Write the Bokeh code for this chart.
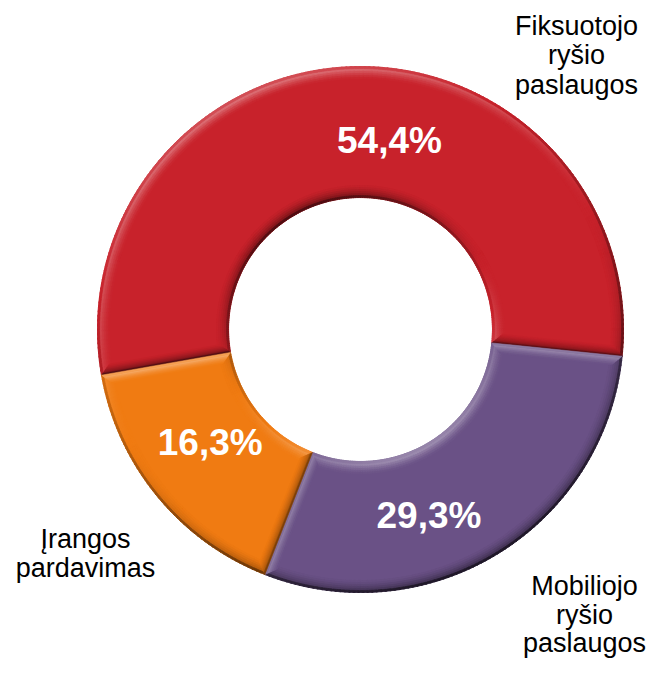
import numpy as np
from bokeh.plotting import figure
from bokeh.models import Range1d
from bokeh.embed import file_html
from bokeh.resources import INLINE
from bokeh.core.properties import value

# ---------------- data ----------------
categories = ["Fiksuotojo ryšio paslaugos", "Mobiliojo ryšio paslaugos", "Įrangos pardavimas"]
shares = [54.4, 29.3, 16.3]
pct_labels = ["54,4%", "29,3%", "16,3%"]
category_lines = [["Fiksuotojo", "ryšio", "paslaugos"],
                  ["Mobiliojo", "ryšio", "paslaugos"],
                  ["Įrangos", "pardavimas"]]
colors = ["#C8222B", "#6A5186", "#F07B12"]

# ---------------- layout ----------------
W, H = 654, 661
CX, CY = 360.0, -329.0
R_OUT, R_IN = 263.0, 132.0
START_DEG = 190.0
BEVEL = 12.0
FONT = "Liberation Sans"
LIGHT = np.array([-0.45, 0.9]); LIGHT = LIGHT / np.linalg.norm(LIGHT)
BASE_FIX = 0.36  # renderer places the alphabetic baseline this many ems lower

pct_nudge_deg = [-10.8, -11.2, -2.4]
pct_radius = [191.0, 198.0, 188.0]
PCT_SIZE = 37
CAT_SIZE = 27
# (center x, first baseline y, line spacing) in picture pixels
cat_pos = [(576.0, 35.0, 29.5), (584.0, 595.0, 28.8), (85.0, 548.5, 28.4)]

p = figure(width=W, height=H, output_backend="svg", toolbar_location=None, title=None,
           x_range=Range1d(0, W), y_range=Range1d(-H, 0), min_border=0,
           outline_line_color=None, background_fill_color="white",
           border_fill_color="white")
p.axis.visible = False
p.grid.visible = False


def hex2rgb(h):
    h = h.lstrip("#")
    return np.array([int(h[i:i + 2], 16) for i in (0, 2, 4)], dtype=float)


def shade(rgb, f):
    f = float(np.clip(f, -1, 1))
    if f >= 0:
        c = rgb + (255 - rgb) * f
    else:
        c = rgb * (1 + f)
    c = np.clip(c, 0, 255).astype(int)
    return "#%02x%02x%02x" % tuple(c)


fr = np.array(shares) / sum(shares)
bounds = START_DEG - 360.0 * np.concatenate([[0], np.cumsum(fr)])

# base slices
p.annular_wedge(x=[CX] * 3, y=[CY] * 3, inner_radius=R_IN, outer_radius=R_OUT,
                start_angle=list(np.radians(bounds[:-1])), end_angle=list(np.radians(bounds[1:])),
                direction="clock", fill_color=colors, line_color=colors, line_width=0.5)

# bevel shading along arcs
NSUB = 6
ws, we, wi, wo, wc = [], [], [], [], []
for i, col in enumerate(colors):
    rgb = hex2rgb(col)
    a0, a1 = bounds[i], bounds[i + 1]
    n = int(np.ceil((a0 - a1) / 1.0))
    edges = np.linspace(a0, a1, n + 1)
    for k in range(n):
        s, e = edges[k], edges[k + 1]
        th = np.radians((s + e) / 2)
        nrm_out = np.array([np.cos(th), np.sin(th)])
        d_out = float(nrm_out @ LIGHT)
        d_in = float(-nrm_out @ LIGHT)
        for j in range(NSUB):
            t = (j + 1) / NSUB  # 1 = at edge
            w = t ** 1.6
            # outer
            r1 = R_OUT - BEVEL * (NSUB - j) / NSUB
            r2 = R_OUT - BEVEL * (NSUB - j - 1) / NSUB
            f = 0.45 * d_out * w
            if j == NSUB - 1:
                f = f - 0.25
            ws.append(np.radians(s + 0.15)); we.append(np.radians(e - 0.15))
            wi.append(r1); wo.append(r2); wc.append(shade(rgb, f))
            # inner
            r1 = R_IN + BEVEL * (NSUB - j - 1) / NSUB
            r2 = R_IN + BEVEL * (NSUB - j) / NSUB
            f = 0.45 * d_in * w
            if j == NSUB - 1:
                f = f - 0.15
            ws.append(np.radians(s + 0.15)); we.append(np.radians(e - 0.15))
            wi.append(r1); wo.append(r2); wc.append(shade(rgb, f))

p.annular_wedge(x=CX, y=CY, inner_radius=wi, outer_radius=wo, start_angle=ws, end_angle=we,
                direction="clock", fill_color=wc, line_color=wc, line_width=0.8)

# bevel along radial edges
px, py, pc = [], [], []
for i, col in enumerate(colors):
    rgb = hex2rgb(col)
    for a, sgn in ((bounds[i], -1), (bounds[i + 1], 1)):
        ar = np.radians(a)
        u = np.array([np.cos(ar), np.sin(ar)])
        m = sgn * np.array([-np.sin(ar), np.cos(ar)])  # into the slice
        d_edge = float(-m @ LIGHT)
        for j in range(NSUB):
            dA = BEVEL * (NSUB - j - 1) / NSUB * 0.8
            dB = BEVEL * (NSUB - j) / NSUB * 0.8
            t = (j + 1) / NSUB
            f = 0.45 * d_edge * t ** 1.6
            if j == NSUB - 1:
                f -= 0.15
            pts = []
            for d, r in ((dA, R_IN + dA), (dA, R_OUT - dA), (dB, R_OUT - dB), (dB, R_IN + dB)):
                q = np.array([CX, CY]) + u * r + m * d
                pts.append(q)
            px.append([float(q[0]) for q in pts]); py.append([float(q[1]) for q in pts])
            pc.append(shade(rgb, f))
p.patches(xs=px, ys=py, fill_color=pc, line_color=pc, line_width=0.5)

# percentage labels (positioned by their visual centre)
mids = (bounds[:-1] + bounds[1:]) / 2
lx, ly = [], []
for i in range(3):
    th = np.radians(mids[i] + pct_nudge_deg[i])
    lx.append(CX + pct_radius[i] * np.cos(th))
    base = CY + pct_radius[i] * np.sin(th) - 0.716 * PCT_SIZE / 2
    ly.append(base + BASE_FIX * PCT_SIZE)
p.text(x=lx, y=ly, text=pct_labels, text_font=value(FONT), text_font_style="bold",
       text_font_size="%dpx" % PCT_SIZE, text_color="white", text_align="center",
       text_baseline="alphabetic")

# category labels
tx, ty, tt = [], [], []
for i, lines in enumerate(category_lines):
    x0, y0, dy = cat_pos[i]
    for k, ln in enumerate(lines):
        tx.append(x0)
        ty.append(-(y0 + k * dy) + BASE_FIX * CAT_SIZE)
        tt.append(ln)
p.text(x=tx, y=ty, text=tt, text_font=value(FONT), text_font_size="%dpx" % CAT_SIZE,
       text_color="black", text_align="center", text_baseline="alphabetic")

open("out.html", "w").write(file_html(p, INLINE))
